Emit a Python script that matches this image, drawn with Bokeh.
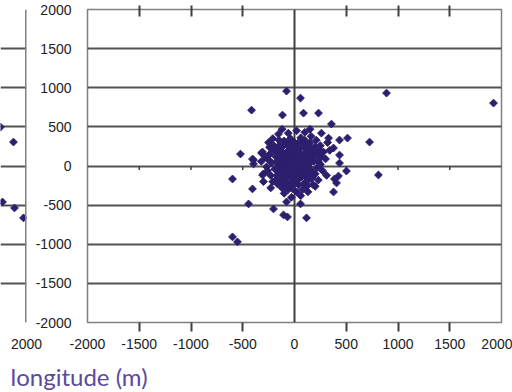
from bokeh.plotting import figure
from bokeh.layouts import row, column
from bokeh.models import FixedTicker, Span, Range1d, LinearAxis
from bokeh.core.properties import value
from bokeh.embed import file_html
from bokeh.resources import INLINE

# ---------------- data (metres) ----------------
# main panel: scattered outliers
outer_x = [-77, -415, -116, 58, 87, 232, 357, 435, 512, 725, 889, 1923, 811,
           -599, -406, -444, -203, -106, -68, 116, 58, -77, -599, -551,
           377, 406, 425, 502, 435, -522, -396, -309, -164, -19, -406, -319,
           -241, -155, 329, 377, 386, 435, -300, -396, -309, -232]
outer_y = [957, 714, 651, 868, 676, 676, 536, 332, 357, 306, 932, 804, -115,
           -166, -293, -485, -549, -625, -651, -663, -485, -459, -906, -970,
           -332, -217, -128, -64, 38, 153, 26, -115, -230, -293, 89, 166,
           242, 408, 357, 230, -166, 140, -102, 77, 179, 230]
# main panel: ring around the cluster
ring_x = [-280, -250, -210, -180, -260, 250, 280, 300, 270, 230, 200, 130, 60, -30,
          -100, -150, -60, 20, 100, 160, 210, 320, -320, -230, 310, 150, -120, 260,
          340, -300]
ring_y = [120, 300, 350, -180, -60, 260, 180, 90, -60, -180, -260, -330, -380, -400,
          -350, 330, 420, 450, 430, 380, 330, 300, 60, -280, -120, 470, 470, 420,
          200, -200]
# main panel: middle of the cluster
mid_x = [-200, -180, -220, -190, -170, -140, -90, -20, 40, 110, 160, 200, 220, 230,
         210, 180, 130, 70, 0, -70, -130, -160, -240, -230, -120, 80, 180, 250, 240,
         100, -40, -200, 150, 190, 170, 120, -60, -210, -250, 60, -100, 200, 260,
         -270, 20, 140, -140, -120, 110, 40, -30, -80, 90, 150, 150, -150, -160, 0,
         60, -60]
mid_y = [200, 120, 40, -40, -120, -200, -240, -260, -240, -220, -160, -100, -20, 60,
         140, 210, 260, 290, 300, 280, 250, 180, 150, -120, -280, -300, -240, 20, 200,
         330, 350, 260, 300, 60, -60, -260, -300, -200, 80, 360, 320, 250, 120,
         -10, -330, 180, 140, -160, -140, 230, 220, -200, 240, 100, -80, 60, -60, -200,
         150, 170]
# main panel: dense core
core_x = [0, 20, -30, 50, -50, 10, -20, 60, 80, -80, 30, -60, 100, -100, 40, -40,
          110, -110, 70, -70, 0, 20, -120, 120, -10, 30, -40, 60, -90, 90, 10, -20,
          130, -130, 50, -50, 80, -90, 0, 40, -30, 100, -100, 150, -150, 160, -10,
          30, 70, -60, 0, 40, -20, 15, -35, 55, -5, 95, -75, 25, -45, 110, -115, 65,
          -85, 135, -135, 5, 45, -25]
core_y = [0, 40, 60, 10, -20, -50, 100, 80, -20, 30, -90, -70, 40, 80, 120, 140,
          -60, -40, -100, 110, 160, -130, 10, 110, 30, 70, -10, -50, -100, 100, 90,
          -80, 0, 100, 170, 190, 140, 160, -110, -160, -140, -110, -130, 40, -10, 140,
          200, 200, 40, 20, 70, 40, 10, -15, 35, -5, 130, 70, -45, 150, 90, 160, 170,
          -140, -170, -30, -80, -170, 100, 250]
core2_x = [-180, -150, -120, -90, -60, -30, 0, 30, 60, 90, 120, 150, 180,
           -170, -140, -110, -80, -50, -20, 10, 40, 70, 100, 130, 160,
           -160, -130, -100, -70, -40, -10, 20, 50, 80, 110, 140, 170,
           -150, -120, -90, -60, -30, 0, 30, 60, 90, 120, 150]
core2_y = [210, 260, 240, 280, 250, 320, 270, 290, 240, 260, 220, 250, 190,
           60, 150, 20, 170, 50, 120, 180, 130, 60, 170, 80, 100, 30,
           -20, -90, 40, -140, -30, -180, -60, -120, -200, -70, -150, 10,
           -210, -240, -40, -220, 210, -180, 120, -230, -190, 190]
# left (partial) panel
left_x = [1749, 1874, 1768, 1884, 1971]
left_y = [498, 306, -460, -536, -663]

x_ticks = [-2000, -1500, -1000, -500, 0, 500, 1000, 1500, 2000]
y_ticks = [-2000, -1500, -1000, -500, 0, 500, 1000, 1500, 2000]
inner_ticks = [-1500, -1000, -500, 500, 1000, 1500]
grid_ticks = [-1500, -1000, -500, 0, 500, 1000, 1500]
left_ticks = [2000]
caption = "longitude (m)"

main_x = outer_x + ring_x + mid_x + core_x + core2_x
main_y = outer_y + ring_y + mid_y + core_y + core2_y

# ---------------- styling ----------------
PT = "#2e1f6e"
GRID = "#3f3f3f"
FRAME = "#808080"
LBL = "#222222"
TICK_FONT = "Liberation Sans"
TICK_SIZE = "14px"

FRAME_W, FRAME_H = 414, 313
TOP, BOTTOM = 9, 38
H = TOP + FRAME_H + BOTTOM
px_x = 4000 / FRAME_W
px_y = 4000 / FRAME_H

LEFT_FRAME = 26
LEFT_RB = 16
OVERLAP = 12
MAIN_LB = 87 - (LEFT_FRAME + LEFT_RB - OVERLAP)
MAIN_W = 512 - (LEFT_FRAME + LEFT_RB - OVERLAP)


def labels(ticks):
    return {t: str(t) for t in ticks}


def style_labels(ax):
    ax.major_label_text_font = TICK_FONT
    ax.major_label_text_font_size = TICK_SIZE
    ax.major_label_text_color = LBL


# main panel
main = figure(width=MAIN_W, height=H, output_backend="svg", toolbar_location=None,
              x_range=Range1d(-2000, 2000), y_range=Range1d(-2000, 2000),
              min_border_left=MAIN_LB, min_border_right=MAIN_W - MAIN_LB - FRAME_W,
              min_border_top=TOP, min_border_bottom=BOTTOM,
              margin=(0, 0, 0, -OVERLAP))
main.border_fill_alpha = 0
main.outline_line_color = FRAME
main.outline_line_width = 1.5
main.xgrid.visible = False
main.ygrid.ticker = FixedTicker(ticks=grid_ticks)
main.ygrid.grid_line_color = GRID
main.ygrid.grid_line_width = 2
main.ygrid.grid_line_alpha = 0.9

xa = main.xaxis[0]
xa.ticker = FixedTicker(ticks=x_ticks, minor_ticks=inner_ticks)
xa.major_label_overrides = labels(x_ticks)
xa.axis_line_color = None
xa.major_tick_line_color = None
xa.major_tick_out = 0
xa.major_tick_in = 0
xa.minor_tick_out = 9
xa.minor_tick_in = 0
xa.minor_tick_line_color = GRID
xa.minor_tick_line_width = 2
xa.major_label_standoff = 7
style_labels(xa)

ya = main.yaxis[0]
ya.ticker = FixedTicker(ticks=y_ticks)
ya.major_label_overrides = labels(y_ticks)
ya.axis_line_color = None
ya.major_tick_line_color = None
ya.minor_tick_line_color = None
ya.major_tick_out = 0
ya.major_tick_in = 0
ya.major_label_standoff = 16
style_labels(ya)

# tick marks crossing the top border
top_axis = LinearAxis(ticker=FixedTicker(ticks=inner_ticks, minor_ticks=[]),
                      major_label_overrides={t: "" for t in inner_ticks},
                      major_label_text_font_size="0px", major_label_standoff=0,
                      axis_line_color=None, major_tick_in=7, major_tick_out=4,
                      major_tick_line_color=GRID, major_tick_line_width=2)
main.add_layout(top_axis, "above")

main.add_layout(Span(location=0, dimension="height", line_color=GRID, line_width=2, level="underlay"))
# small tick marks under the zero line
main.segment(x0=inner_ticks, x1=inner_ticks, y0=[0] * len(inner_ticks),
             y1=[-4 * px_y] * len(inner_ticks), line_color=GRID, line_width=1.5)
main.scatter(main_x, main_y, marker="square", angle=0.785, size=5.5,
             fill_color=PT, line_color=PT)

# left partial panel
left = figure(width=LEFT_FRAME + LEFT_RB, height=H, output_backend="svg", toolbar_location=None,
              x_range=Range1d(2000 - LEFT_FRAME * px_x, 2000), y_range=Range1d(-2000, 2000),
              y_axis_location=None,
              min_border_left=0, min_border_right=LEFT_RB, min_border_top=TOP, min_border_bottom=BOTTOM)
left.outline_line_color = None
left.xgrid.visible = False
left.ygrid.ticker = FixedTicker(ticks=y_ticks)
left.ygrid.grid_line_color = GRID
left.ygrid.grid_line_width = 2
left.ygrid.grid_line_alpha = 0.9
la = left.xaxis[0]
la.ticker = FixedTicker(ticks=left_ticks)
la.major_label_overrides = labels(left_ticks)
la.axis_line_color = None
la.major_tick_line_color = None
la.minor_tick_line_color = None
la.major_tick_out = 0
la.major_tick_in = 0
la.major_label_standoff = 16
style_labels(la)
left.add_layout(Span(location=2000, dimension="height", line_color=FRAME, line_width=3))
left.scatter(left_x, left_y, marker="square", angle=0.785, size=5.5,
             fill_color=PT, line_color=PT)

# caption strip
CAP_W, CAP_H = 512, 392 - H
cap = figure(width=CAP_W, height=CAP_H, output_backend="svg", toolbar_location=None,
             x_range=Range1d(0, CAP_W), y_range=Range1d(0, CAP_H),
             x_axis_location=None, y_axis_location=None,
             min_border=0)
cap.outline_line_color = None
cap.grid.visible = False
cap.text(x=[10], y=[16], text=[caption], text_font=value("Lato"), text_font_size="24px",
         text_color="#5b4a9c", text_baseline="alphabetic", text_align="left")

p = column(row(left, main), cap)

open("out.html", "w").write(file_html(p, INLINE))
